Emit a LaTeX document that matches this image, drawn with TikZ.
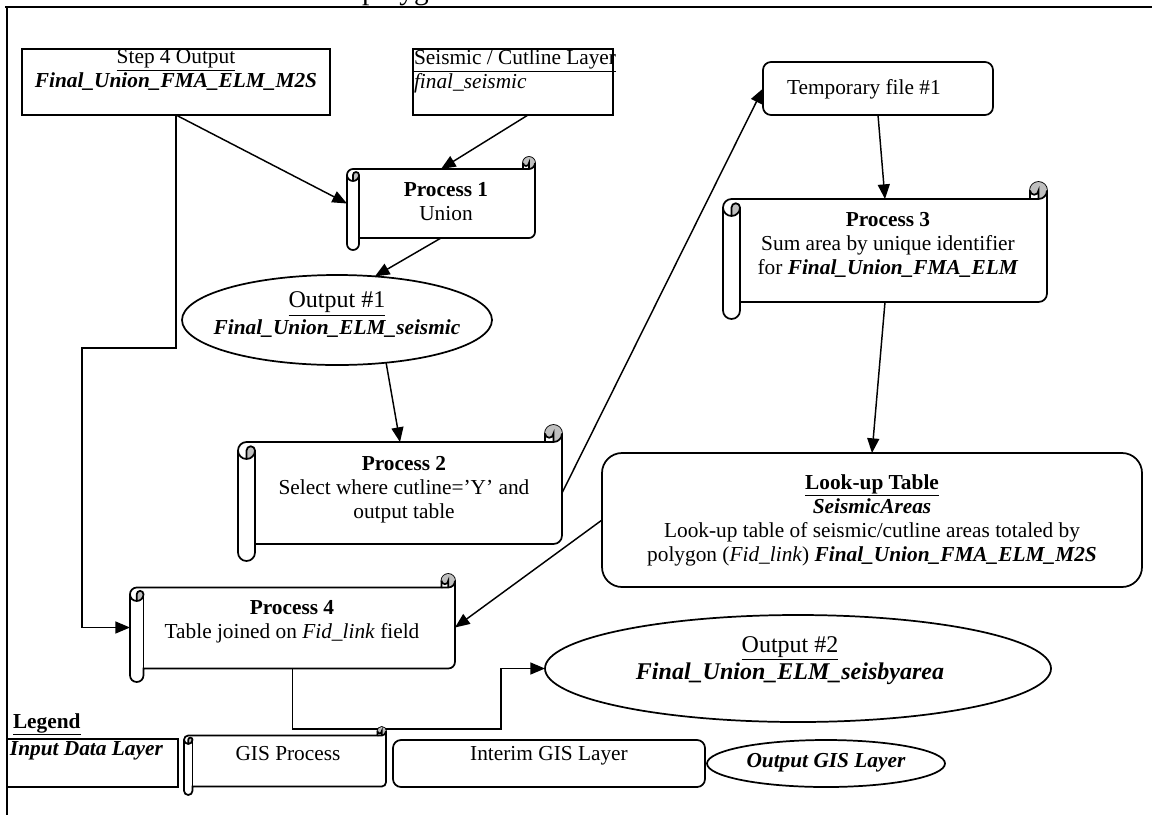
\documentclass[tikz,border=0pt]{standalone}
\usepackage{fontspec}
\setmainfont{Liberation Serif}
\usetikzlibrary{arrows.meta,calc,shapes.geometric}

% Horizontal scroll outline: left, top, right, bottom, roll diameter (all in px units)
\newcommand\drawscroll[5]{%
  \pgfmathsetmacro\qL{#1}%
  \pgfmathsetmacro\qT{#2}%
  \pgfmathsetmacro\qR{#3}%
  \pgfmathsetmacro\qB{#4}%
  \pgfmathsetmacro\qC{#5}%
  \pgfmathsetmacro\qH{#5/2}%
  \pgfmathsetmacro\qrH{#5*0.375}%
  \pgfmathsetmacro\qrQ{#5*0.1875}%
  \draw[shapeline,fill=white]
    (\qL,\qT+\qC+\qH) arc[start angle=180,end angle=90,radius=\qrH pt]
    -- (\qR-\qC,\qT+\qC) -- (\qR-\qC,\qT+\qH)
    arc[start angle=180,end angle=0,radius=\qrH pt]
    -- (\qR,\qB-\qC-\qH)
    arc[start angle=0,end angle=-90,radius=\qrH pt]
    -- (\qL+\qC,\qB-\qC) -- (\qL+\qC,\qB-\qH)
    arc[start angle=0,end angle=-180,radius=\qrH pt] -- cycle;
  \fill[curl] (\qR-\qH,\qT+\qC) arc[start angle=-90,end angle=180,radius=\qrH pt]
    arc[start angle=180,end angle=360,radius=\qrQ pt] -- cycle;
  \fill[curl] (\qL+\qH,\qT+\qC+\qC) arc[start angle=-90,end angle=0,radius=\qrH pt]
    arc[start angle=0,end angle=180,radius=\qrQ pt] -- cycle;
  \draw[shapeline] (\qR-\qC,\qT+\qC) -- (\qR-\qH,\qT+\qC)
    arc[start angle=-90,end angle=0,radius=\qrH pt];
  \draw[shapeline] (\qR-\qH,\qT+\qC) -- (\qR-\qH,\qT+\qH)
    arc[start angle=0,end angle=-180,radius=\qrQ pt];
  \draw[shapeline] (\qL+\qH,\qT+\qC+\qC) -- (\qL+\qH,\qT+\qC+\qH)
    arc[start angle=180,end angle=0,radius=\qrQ pt]
    arc[start angle=0,end angle=-180,radius=\qrH pt];
  \draw[shapeline] (\qL+\qC,\qT+\qC+\qH) -- (\qL+\qC,\qB-\qC);
}

% Invisible or drawn node covering a pixel box: style, name, left, top, right, bottom
\newcommand\boxnode[6]{%
  \pgfmathsetmacro\bxW{(#5-#3)*0.75}%
  \pgfmathsetmacro\bxH{(#6-#4)*0.75}%
  \node[#1, minimum width=\bxW pt, minimum height=\bxH pt] (#2) at ({(#3+#5)/2},{(#4+#6)/2}) {};
}

\begin{document}
\begin{tikzpicture}[x=0.75pt,y=-0.75pt,
  lbl/.style={inner sep=0pt, outer sep=0pt, align=center, font=\fontsize{16}{18}\selectfont},
  biglbl/.style={lbl, font=\fontsize{18}{20.25}\selectfont},
  shapeline/.style={line width=1.3pt},
  box/.style={draw, shapeline, inner sep=0pt, outer sep=0pt, fill=white},
  roundbox/.style={box, rounded corners=6pt},
  bigroundbox/.style={box, rounded corners=15pt},
  oval/.style={box, ellipse},
  body/.style={inner sep=0pt, outer sep=0pt, draw=none},
  conn/.style={line width=1.1pt},
  arr/.style={conn, -{Triangle[length=11pt,width=9pt]}},
  frameline/.style={line width=2pt},
  curl/.style={fill=black!25}
]
\useasboundingbox (0,0) rectangle (1152,815);

% page frame and the clipped caption above it
\node[lbl, font=\fontsize{22}{26}\selectfont, anchor=base west] (toptext) at (362,-1) {polygon};
\draw[frameline] (5,7) -- (1152,7);
\draw[frameline] (7,7) -- (7,815);

% input layers
\boxnode{box}{step4}{22}{49}{330}{115}
\node[lbl, anchor=north] (step4t) at (176,49.5)
  {\underline{Step 4 Output}\\\textbf{\textit{Final\_Union\_FMA\_ELM\_M2S}}};
\boxnode{box}{seis}{413}{49}{613}{115}
\node[lbl, anchor=north west, align=left] (seist) at (414,49.5)
  {\underline{Seismic / Cutline Layer}\\\textit{final\_seismic}};

% temporary file
\boxnode{roundbox}{temp}{763}{62}{993}{115}
\node[lbl, anchor=base west] (tempt) at (787,94) {Temporary file \#1};

% processes
\drawscroll{347}{157}{535}{250}{12}
\boxnode{body}{p1}{347}{169}{535}{238}
\node[lbl, anchor=north] (p1t) at (446,182.5) {\textbf{Process 1}\\Union};

\drawscroll{723}{182}{1047}{319}{17}
\boxnode{body}{p3}{723}{199}{1047}{302}
\node[lbl, anchor=north] (p3t) at (888,212.5)
  {\textbf{Process 3}\\Sum area by unique identifier\\for \textbf{\textit{Final\_Union\_FMA\_ELM}}};

\drawscroll{238}{425}{562}{561}{17}
\boxnode{body}{p2}{238}{442}{562}{544}
\node[lbl, anchor=north] (p2t) at (404,456.5)
  {\textbf{Process 2}\\Select where cutline=’Y’ and\\output table};

\drawscroll{130}{574}{455}{682}{13.5}
\boxnode{body}{p4}{130}{587}{455}{668}
\node[lbl, anchor=north] (p4t) at (292,600.5)
  {\textbf{Process 4}\\Table joined on \textit{Fid\_link} field};

% outputs
\boxnode{oval}{out1}{182}{275}{492}{365}
\node[biglbl, anchor=north] (out1t) at (337,292)
  {\underline{Output \#1}\\{\fontsize{16}{18}\selectfont\textbf{\textit{Final\_Union\_ELM\_seismic}}}};

\boxnode{oval}{out2}{545}{615}{1051}{722}
\node[biglbl, anchor=north] (out2t) at (790,636.7)
  {\underline{Output \#2}\\\textbf{\textit{Final\_Union\_ELM\_seisbyarea}}};

% look-up table
\boxnode{bigroundbox}{look}{602}{453}{1142}{587}
\node[lbl, anchor=north] (lookt) at (872,474.5)
  {\underline{\textbf{Look-up Table}}\\\textbf{\textit{SeismicAreas}}\\
   Look-up table of seismic/cutline areas totaled by\\
   polygon (\textit{Fid\_link}) \textbf{\textit{Final\_Union\_FMA\_ELM\_M2S}}};

% connectors
\coordinate (k1) at (82,348);
\coordinate (j1) at (501,729);
\draw[arr] (step4.south) -- (p1.west);
\draw[arr] (step4.south) |- (k1) |- (p4.west);
\draw[arr] ([xshift=11.25pt]seis.south) -- (p1.north);
\draw[arr] (p1.south) -- (out1.49);
\draw[arr] (out1.-41) -- (p2.north);
\draw[arr] (p2.east) -- (temp.west);
\draw[arr] (temp.south) -- (p3.north);
\draw[arr] (p3.south) -- (look.north);
\draw[arr] (look.west) -- (p4.east);
\draw[arr] (p4.south) |- (j1) |- (out2.west);

% legend
\node[lbl, anchor=base west] (legend) at (13,728) {\underline{\textbf{Legend}}};
\boxnode{box}{lgin}{7}{739}{178}{787}
\node[lbl, anchor=base] (lgint) at (86.5,755) {\textbf{\textit{Input Data Layer}}};
\drawscroll{184}{727}{386}{795}{8.5}
\boxnode{body}{lgproc}{184}{735.5}{386}{786.5}
\node[lbl, anchor=base] (lgproct) at (288,760) {GIS Process};
\boxnode{roundbox}{lgint}{393}{740}{705}{787}
\node[lbl, anchor=base] (lginterimt) at (549,760) {Interim GIS Layer};
\boxnode{oval}{lgout}{707}{740}{945}{787}
\node[lbl, anchor=base] (lgoutt) at (826,767) {\textbf{\textit{Output GIS Layer}}};
\end{tikzpicture}
\end{document}
